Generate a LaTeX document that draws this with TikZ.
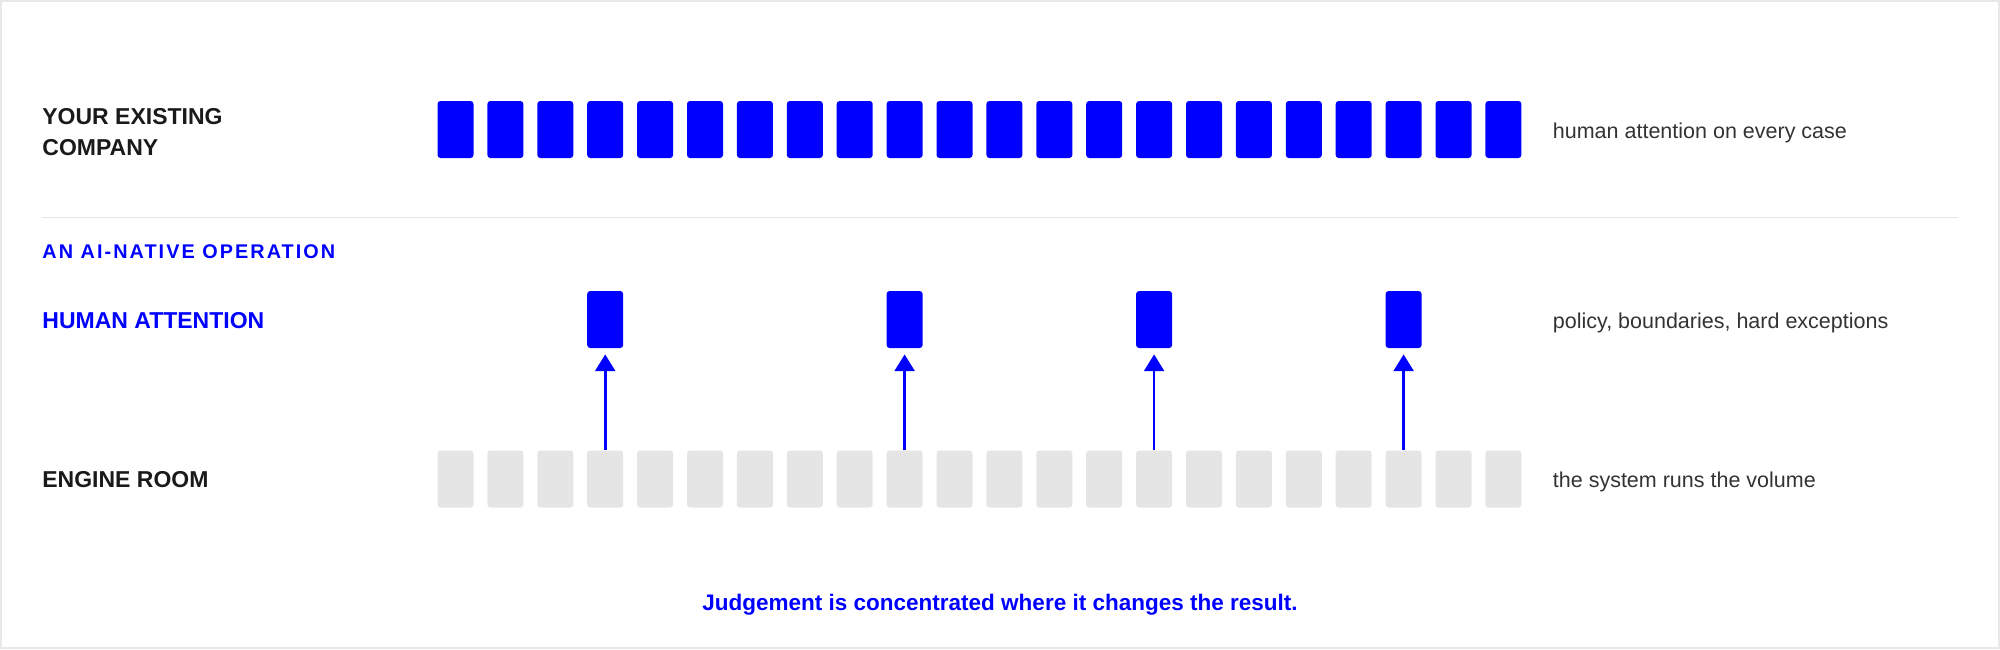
\documentclass[tikz,border=0pt]{standalone}
\usepackage{fontspec}
\setmainfont{Liberation Sans}
\newfontfamily\trackedfont[LetterSpace=10.5]{Liberation Sans}
\usetikzlibrary{arrows.meta}
\definecolor{attnblue}{HTML}{0000FF}
\definecolor{enginegrey}{HTML}{E5E5E5}
\definecolor{inkdark}{HTML}{1A1A1A}
\definecolor{inksoft}{HTML}{333333}
\definecolor{framegrey}{HTML}{E8E8E8}
\begin{document}
\begin{tikzpicture}[x=0.5pt,y=-0.5pt,
  caseblock/.style={rectangle,inner sep=0pt,minimum width=18pt,minimum height=28.5pt,rounded corners=1.5pt,fill=attnblue},
  engineblock/.style={caseblock,fill=enginegrey},
  rowlabel/.style={anchor=base west,inner sep=0pt,text=inkdark,font=\fontsize{11.5}{15.5}\selectfont\bfseries},
  rownote/.style={anchor=base west,inner sep=0pt,text=inksoft,font=\fontsize{10.75}{13}\selectfont},
  escalate/.style={draw=attnblue,line width=1.35pt,-{Triangle[length=8.4pt,width=10pt]}}]
\pgfmathsetmacro{\pitch}{49.9}
\pgfmathsetmacro{\firstx}{455.5}
\useasboundingbox (0,0) rectangle (2000,649);
\draw[framegrey,line width=1pt] (1,1) rectangle (1999,648);
\node[rowlabel,anchor=north west,align=left] (existing) at (42,108) {YOUR EXISTING\\COMPANY};
\foreach \i in {0,...,21}
  \node[caseblock] (top\i) at (\firstx+\pitch*\i,129.5) {};
\node[rownote] (everycase) at (1552.5,138) {human attention on every case};
\draw[enginegrey,line width=0.75pt] (42,217.5) -- (1958,217.5);
\node[anchor=base west,inner sep=0pt,text=attnblue,font=\fontsize{9.9}{12}\trackedfont\bfseries] (ainative) at (42,258.3) {AN AI-NATIVE OPERATION};
\node[rowlabel,text=attnblue] (human) at (42,328.3) {HUMAN ATTENTION};
\node[rowlabel] (engine) at (42,487.7) {ENGINE ROOM};
\foreach \i in {0,...,21}
  \node[engineblock] (eng\i) at (\firstx+\pitch*\i,479) {};
\foreach \i in {3,9,14,19}{
  \node[caseblock] (att\i) at (\firstx+\pitch*\i,319.5) {};
  \draw[escalate] (eng\i.north) -- ([yshift=-3pt]att\i.south);
}
\node[rownote] (policy) at (1552.5,328.3) {policy, boundaries, hard exceptions};
\node[rownote] (volume) at (1552.5,487.3) {the system runs the volume};
\node[anchor=base,inner sep=0pt,text=attnblue,font=\fontsize{11.25}{13}\selectfont\bfseries] (caption) at (1000,610) {Judgement is concentrated where it changes the result.};
\end{tikzpicture}
\end{document}
